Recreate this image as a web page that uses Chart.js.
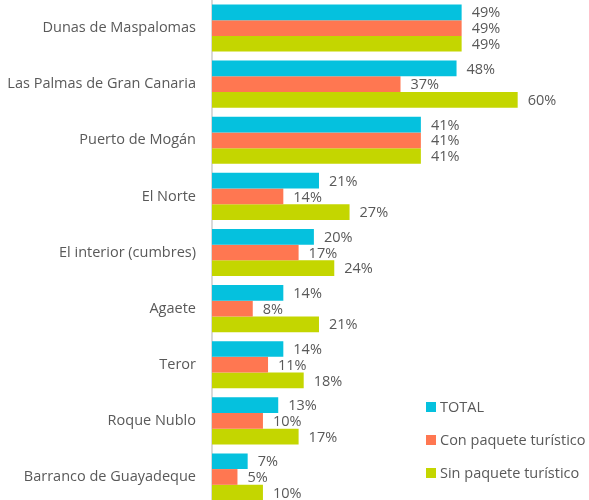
<!DOCTYPE html>
<html>
<head>
<meta charset="utf-8">
<script src="https://cdn.jsdelivr.net/npm/chart.js@4/dist/chart.umd.min.js"></script>
<style>
  html, body { margin: 0; padding: 0; background: #fff; overflow: hidden; }
  #wrap { position: relative; width: 589px; height: 505px; }
</style>
</head>
<body>
<div id="wrap"><canvas id="chart" width="589" height="505"></canvas></div>
<script>
/* DATA */

const categories = [
  "Dunas de Maspalomas",
  "Las Palmas de Gran Canaria",
  "Puerto de Mogán",
  "El Norte",
  "El interior (cumbres)",
  "Agaete",
  "Teror",
  "Roque Nublo",
  "Barranco de Guayadeque"
];

const seriesNames = ["TOTAL", "Con paquete turístico", "Sin paquete turístico"];

const totalValues = [49, 48, 41, 21, 20, 14, 14, 13, 7];
const conPaquete = [49, 37, 41, 14, 17, 8, 11, 10, 5];
const sinPaquete = [49, 60, 41, 27, 24, 21, 18, 17, 10];

const colors = ["#05C1DE", "#FF7751", "#C4D600"];

const FONT = "'Open Sans', sans-serif";
const TEXT = "#595959";
const SIZE = 14.5;

/* VALUE LABELS */

const valueLabels = {
  id: "valueLabels",
  afterDatasetsDraw(chart) {
    const ctx = chart.ctx;
    ctx.save();
    ctx.font = SIZE + "px " + FONT;
    ctx.fillStyle = TEXT;
    ctx.textAlign = "left";
    ctx.textBaseline = "middle";
    chart.data.datasets.forEach((ds, i) => {
      chart.getDatasetMeta(i).data.forEach((bar, j) => {
        ctx.fillText(ds.data[j] + "%", bar.x + 10, bar.y + 1);
      });
    });
    ctx.restore();
  }
};

/* LEGEND (bottom right, vertical) */

const sideLegend = {
  id: "sideLegend",
  afterDraw(chart) {
    const ctx = chart.ctx;
    ctx.save();
    ctx.font = SIZE + "px " + FONT;
    ctx.textBaseline = "middle";
    chart.data.datasets.forEach((ds, i) => {
      const y = 407 + i * 33;
      ctx.fillStyle = ds.backgroundColor;
      ctx.fillRect(426, y - 5, 10, 10);
      ctx.fillStyle = TEXT;
      ctx.fillText(ds.label, 440, y + 1);
    });
    ctx.restore();
  }
};

/* CHART */

new Chart(document.getElementById("chart"), {
  type: "bar",
  data: {
    labels: categories,
    datasets: [totalValues, conPaquete, sinPaquete].map((arr, i) => ({
      label: seriesNames[i],
      data: arr,
      backgroundColor: colors[i],
      borderWidth: 0,
      categoryPercentage: 0.84,
      barPercentage: 1.0
    }))
  },
  options: {
    indexAxis: "y",
    responsive: false,
    animation: false,
    devicePixelRatio: 1,
    layout: { padding: 0 },
    plugins: {
      legend: { display: false },
      tooltip: { enabled: false }
    },
    scales: {
      x: {
        display: false,
        min: 0,
        max: 74
      },
      y: {
        grid: { display: false, drawTicks: false },
        border: { display: true, color: "#D9D9D9", width: 2 },
        ticks: {
          color: TEXT,
          font: { family: "Open Sans", size: SIZE },
          padding: 16
        },
        afterFit(scale) {
          scale.width = 212;
          scale.paddingTop = 0;
          scale.paddingBottom = 0;
        }
      }
    }
  },
  plugins: [valueLabels, sideLegend]
});
</script>
</body>
</html>
